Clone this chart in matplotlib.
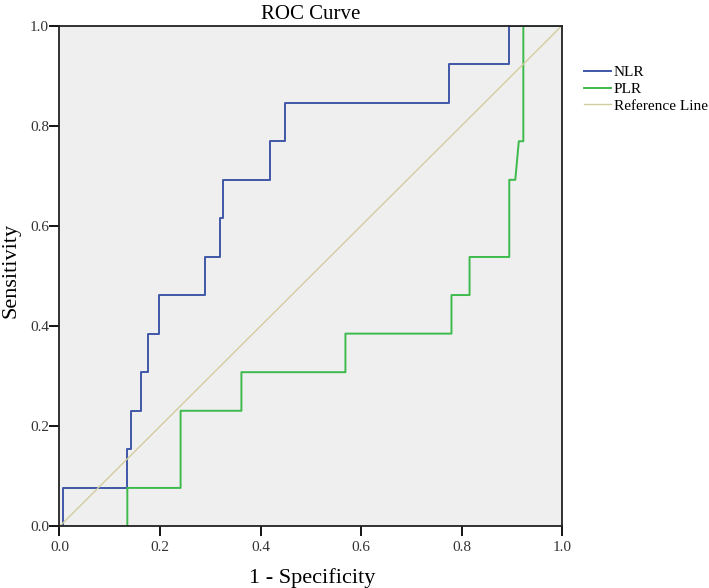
import matplotlib
matplotlib.use('Agg')
import matplotlib.pyplot as plt

# ROC points (1 - specificity, sensitivity)
nlr_fpr = [0.0, 0.0, 0.006, 0.006, 0.135, 0.135, 0.142, 0.142, 0.162, 0.162,
           0.177, 0.177, 0.198, 0.198, 0.290, 0.290, 0.320, 0.320, 0.326, 0.326,
           0.419, 0.419, 0.448, 0.448, 0.775, 0.775, 0.894, 0.894, 1.0]
nlr_tpr = [0.0, 0.0, 0.0, 0.077, 0.077, 0.154, 0.154, 0.231, 0.231, 0.308,
           0.308, 0.385, 0.385, 0.462, 0.462, 0.538, 0.538, 0.615, 0.615, 0.692,
           0.692, 0.769, 0.769, 0.846, 0.846, 0.923, 0.923, 1.0, 1.0]

plr_fpr = [0.0, 0.135, 0.135, 0.241, 0.241, 0.362, 0.362, 0.569, 0.569, 0.780,
           0.780, 0.816, 0.816, 0.895, 0.895, 0.907, 0.914, 0.923, 0.923, 1.0]
plr_tpr = [0.0, 0.0, 0.077, 0.077, 0.231, 0.231, 0.308, 0.308, 0.385, 0.385,
           0.462, 0.462, 0.538, 0.538, 0.692, 0.692, 0.769, 0.769, 1.0, 1.0]

ref_x = [0.0, 1.0]
ref_y = [0.0, 1.0]

ticks = [0.0, 0.2, 0.4, 0.6, 0.8, 1.0]

plt.rcParams['font.family'] = ['Liberation Serif', 'DejaVu Serif']

fig = plt.figure(figsize=(7.09, 5.88), dpi=100)
ax = fig.add_axes([0.0839, 0.1046, 0.7088, 0.852])
ax.set_facecolor('#efefef')

ax.plot(nlr_fpr, nlr_tpr, color='#3f57a8', lw=1.4, label='NLR')
ax.plot(plr_fpr, plr_tpr, color='#3dba4c', lw=1.4, label='PLR')
ax.plot(ref_x, ref_y, color='#d2cd9f', lw=1.0, label='Reference Line')

ax.set_xlim(0, 1)
ax.set_ylim(0, 1)
ax.set_xticks(ticks)
ax.set_yticks(ticks)
ax.set_xticklabels([f'{t:.1f}' for t in ticks])
ax.set_yticklabels([f'{t:.1f}' for t in ticks])
ax.tick_params(direction='out', length=7, width=1.3, labelsize=11,
               labelcolor='#333333')
ax.tick_params(axis='x', pad=3.5)
ax.tick_params(axis='y', pad=0.5)
for s in ax.spines.values():
    s.set_linewidth(1.3)
    s.set_color('#222222')

ax.set_title('ROC Curve', fontsize=15, pad=5)
ax.set_xlabel('1 - Specificity', fontsize=16, va='center')
ax.set_ylabel('Sensitivity', fontsize=16, va='center')
ax.xaxis.set_label_coords(0.503, -0.103)
ax.yaxis.set_label_coords(-0.0955, 0.511)

fig.legend(loc='upper left', bbox_to_anchor=(0.815, 0.899), frameon=False,
           fontsize=11, handlelength=1.8, handletextpad=0.15,
           labelspacing=0.2, borderaxespad=0)

fig.savefig('out.png', dpi=100)
